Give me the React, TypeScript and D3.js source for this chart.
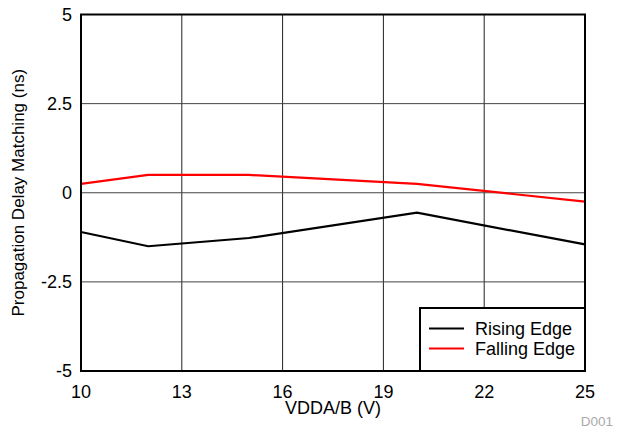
import React from "react";
import * as d3 from "d3";

const voltages = [10, 12, 15, 20, 25];
const risingEdge = [-1.1, -1.5, -1.27, -0.56, -1.45];
const fallingEdge = [0.25, 0.5, 0.5, 0.25, -0.25];
const xTicks = [10, 13, 16, 19, 22, 25];
const yTicks = [-5, -2.5, 0, 2.5, 5];
const yTickLabels = ["-5", "-2.5", "0", "2.5", "5"];
const seriesNames = ["Rising Edge", "Falling Edge"];
const seriesColors = ["#000000", "#ff0000"];

const W = 618;
const H = 432;
const left = 81;
const right = 585;
const top = 14.5;
const bottom = 371;

export default function App() {
  const x = d3.scaleLinear().domain([10, 25]).range([left, right]);
  const y = d3.scaleLinear().domain([-5, 5]).range([bottom, top]);
  const line = d3
    .line<number>()
    .x((_, i) => x(voltages[i]))
    .y((d) => y(d));
  const series = [risingEdge, fallingEdge];
  const font = "'Liberation Sans', Arial, Helvetica, sans-serif";

  const legW = 165;
  const legH = 63;
  const legX = right - legW;
  const legY = bottom - legH;

  return (
    <svg
      width={W}
      height={H}
      style={{ position: "absolute", left: 0, top: 0, background: "#fff" }}
      fontFamily={font}
    >
      <rect x={0} y={0} width={W} height={H} fill="#fff" />
      {xTicks.map((t) => (
        <line key={"gx" + t} x1={x(t)} x2={x(t)} y1={top} y2={bottom} stroke="#222" strokeWidth={1} />
      ))}
      {yTicks.map((t) => (
        <line key={"gy" + t} x1={left} x2={right} y1={y(t)} y2={y(t)} stroke="#444" strokeWidth={1} />
      ))}
      {series.map((s, i) => (
        <path key={"s" + i} d={line(s) || ""} fill="none" stroke={seriesColors[i]} strokeWidth={2.2} />
      ))}
      <rect x={left} y={top} width={right - left} height={bottom - top} fill="none" stroke="#000" strokeWidth={2} />
      {yTicks.map((t, i) => (
        <text key={"ty" + t} x={72} y={y(t)} dy="0.35em" textAnchor="end" fontSize={18} fill="#000">
          {yTickLabels[i]}
        </text>
      ))}
      {xTicks.map((t) => (
        <text key={"tx" + t} x={x(t)} y={398} textAnchor="middle" fontSize={18} fill="#000">
          {t}
        </text>
      ))}
      <text x={(left + right) / 2} y={414} textAnchor="middle" fontSize={18} fill="#000">
        VDDA/B (V)
      </text>
      <text
        transform={`translate(24, ${(top + bottom) / 2}) rotate(-90)`}
        textAnchor="middle"
        fontSize={17}
        fill="#000"
      >
        Propagation Delay Matching (ns)
      </text>
      <rect x={legX} y={legY} width={legW} height={legH} fill="#fff" stroke="#000" strokeWidth={2} />
      {seriesNames.map((n, i) => (
        <g key={"l" + i}>
          <line
            x1={legX + 9}
            x2={legX + 44}
            y1={legY + 20.5 + i * 20}
            y2={legY + 20.5 + i * 20}
            stroke={seriesColors[i]}
            strokeWidth={2.2}
          />
          <text x={legX + 55} y={legY + 20.5 + i * 20} dy="0.35em" fontSize={18} fill="#000">
            {n}
          </text>
        </g>
      ))}
      <text x={613} y={426} textAnchor="end" fontSize={13.5} fill="#aaa">
        D001
      </text>
    </svg>
  );
}
